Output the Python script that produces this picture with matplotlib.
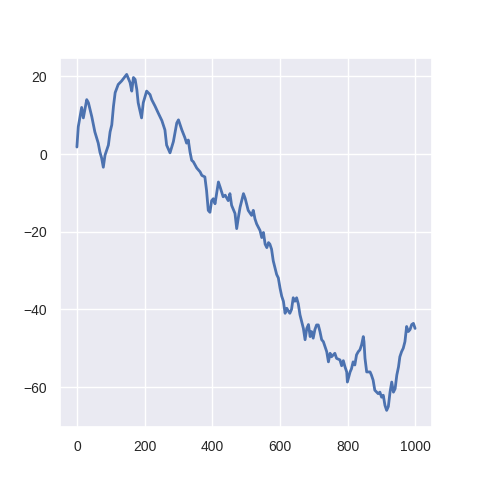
import matplotlib
matplotlib.use("Agg")
import matplotlib.pyplot as plt
import seaborn as sns

steps = [0, 4, 14, 19, 29, 34, 44, 53, 63, 68, 73, 78, 83, 93, 98, 103, 108, 113,
         122, 132, 147, 157, 162, 167, 172, 177, 181, 191, 196, 206, 216, 221, 231,
         240, 251, 255, 260, 265, 275, 285, 295, 300, 310, 319, 324, 329, 334, 339,
         344, 354, 364, 369, 378, 383, 388, 393, 398, 403, 408, 418, 423, 432, 438,
         447, 452, 457, 467, 472, 477, 482, 492, 497, 506, 516, 521, 526, 531, 541,
         546, 551, 556, 561, 566, 570, 575, 580, 585, 590, 595, 600, 605, 610, 615,
         620, 625, 629, 634, 639, 644, 649, 654, 659, 664, 669, 674, 679, 684, 689,
         693, 698, 703, 708, 713, 718, 723, 728, 738, 743, 748, 752, 762, 767, 777,
         782, 787, 792, 797, 799, 807, 811, 816, 821, 826, 831, 836, 841, 846, 848,
         851, 856, 866, 870, 875, 880, 890, 895, 900, 905, 910, 915, 920, 925, 930,
         935, 940, 945, 950, 954, 959, 964, 969, 974, 979, 984, 989, 994, 999]

walk = [1.8, 7.0, 12.0, 9.3, 14.0, 13.2, 9.6, 5.7, 2.8, 0.5, -1.0, -3.4, -0.3, 2.3,
        5.7, 7.5, 12.3, 15.8, 17.9, 18.8, 20.5, 18.4, 16.2, 19.7, 19.2, 16.6, 13.2,
        9.3, 13.2, 16.2, 15.3, 14.0, 12.3, 10.6, 8.6, 7.5, 6.2, 2.3, 0.3, 3.2, 8.0,
        8.8, 6.2, 4.2, 2.8, 3.6, 0.6, -1.6, -2.0, -3.6, -4.6, -5.5, -5.9, -9.4,
        -14.5, -15.0, -12.0, -11.5, -12.8, -7.2, -8.5, -11.0, -10.6, -12.0, -10.2,
        -13.2, -15.3, -19.2, -16.3, -13.7, -10.2, -11.4, -14.5, -15.8, -14.5, -16.7,
        -18.0, -19.7, -21.5, -20.2, -23.2, -24.1, -22.8, -23.2, -24.5, -27.5, -29.3,
        -31.0, -31.9, -34.5, -36.6, -37.9, -41.0, -39.7, -40.5, -41.0, -40.0, -37.0,
        -37.9, -37.0, -38.6, -41.4, -43.1, -44.9, -47.8, -44.9, -43.9, -47.0, -45.7,
        -47.4, -45.2, -44.0, -44.0, -45.7, -47.8, -48.3, -50.9, -53.5, -51.3, -52.2,
        -51.3, -52.6, -53.0, -54.5, -53.2, -54.8, -56.1, -58.7, -56.1, -55.3, -53.5,
        -54.3, -51.7, -50.9, -50.4, -49.1, -47.0, -48.3, -52.6, -56.1, -56.1, -56.9,
        -58.2, -60.8, -61.7, -61.3, -62.6, -62.1, -64.7, -66.0, -65.0, -61.3, -58.7,
        -61.3, -60.4, -56.9, -54.8, -52.2, -50.9, -50.0, -48.3, -44.4, -45.7, -45.2,
        -43.9, -43.6, -44.9]

sns.set_theme(style="darkgrid")
plt.rcParams['font.family'] = ['Liberation Sans', 'DejaVu Sans']

fig = plt.figure(figsize=(4.8, 4.8), dpi=100)
ax = fig.add_subplot(111)
ax.plot(steps, walk, color="#4C72B0", linewidth=2.0)
ax.tick_params(labelsize=10, colors="#262626")
fig.savefig("out.png", dpi=100)
